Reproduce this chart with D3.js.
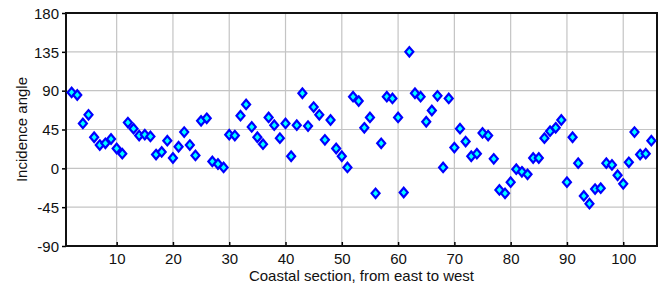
<!DOCTYPE html>
<html><head><meta charset="utf-8">
<script src="https://cdn.jsdelivr.net/npm/d3@7"></script>
<style>body{margin:0;background:#fff}svg{display:block}text{font-family:"Liberation Sans",Arial,sans-serif}</style>
</head><body>
<svg id="c" width="661" height="288"></svg>
<script>
const sections = d3.range(2, 106);
const angles = [88,85,52,62,36,27,29,34,23,17,53,46,38,39,37,16,19,32,12,25,42,27,15,55,58,8,5,1,39,38,61,74,48,36,28,59,50,35,52,14,50,87,49,71,62,33,56,23,14,1,83,78,47,59,-29,29,83,81,59,-28,135,87,83,54,67,84,1,81,24,46,31,14,17,41,38,11,-25,-29,-16,-1,-4,-7,12,12,35,43,47,56,-16,36,6,-32,-41,-24,-23,6,4,-8,-18,7,42,16,17,32];
const xTicks = [10,20,30,40,50,60,70,80,90,100];
const yTicks = [-90,-45,0,45,90,135,180];
const xLabel = "Coastal section, from east to west";
const yLabel = "Incidence angle";

const L=66,R=657,T=13,B=246;
const svg=d3.select("#c");
const x=d3.scaleLinear().domain([1,106]).range([L,R]);
const y=d3.scaleLinear().domain([-90,180]).range([B,T]);

// grid
svg.append("g").selectAll("line").data(xTicks).join("line")
  .attr("x1",d=>x(d)).attr("x2",d=>x(d)).attr("y1",T).attr("y2",B)
  .attr("stroke","#c4c4c4").attr("stroke-width",1.2);
svg.append("g").selectAll("line").data(yTicks.filter(d=>d>-90&&d<180)).join("line")
  .attr("x1",L).attr("x2",R).attr("y1",d=>y(d)).attr("y2",d=>y(d))
  .attr("stroke","#c4c4c4").attr("stroke-width",1.2);

// axes
const xa=svg.append("g").attr("transform",`translate(0,${B})`)
  .call(d3.axisBottom(x).tickValues(xTicks).tickSize(-4).tickPadding(10).tickFormat(d=>String(d)));
const ya=svg.append("g").attr("transform",`translate(${L},0)`)
  .call(d3.axisLeft(y).tickValues(yTicks).tickSize(4).tickPadding(3).tickFormat(d=>String(d)));
[xa,ya].forEach(a=>{a.select(".domain").remove();
  a.selectAll("line").attr("stroke","#000").attr("stroke-width",1.5);
  a.selectAll("text").attr("font-size",15).attr("fill","#111").attr("font-family","Liberation Sans, Arial, sans-serif");});
xa.selectAll("text").attr("dy","0.55em");
ya.selectAll("text").attr("dy","0.35em");

// box
svg.append("rect").attr("x",L).attr("y",T).attr("width",R-L).attr("height",B-T)
  .attr("fill","none").attr("stroke","#111").attr("stroke-width",2);

// markers
const diamond=(cx,cy)=>`M${cx},${cy-4.7}L${cx+4},${cy}L${cx},${cy+4.7}L${cx-4},${cy}Z`;
svg.append("g").selectAll("path").data(sections.map((s,i)=>[s,angles[i]])).join("path")
  .attr("d",d=>diamond(x(d[0]),y(d[1])))
  .attr("fill","#00ffff").attr("stroke","#0000ff").attr("stroke-width",2.2).attr("stroke-linejoin","miter");

// labels
svg.append("text").attr("x",(L+R)/2).attr("y",281).attr("text-anchor","middle")
  .attr("font-size",15).attr("fill","#111").text(xLabel);
svg.append("text").attr("transform",`translate(27,${(T+B)/2}) rotate(-90)`).attr("text-anchor","middle")
  .attr("font-size",15).attr("fill","#111").text(yLabel);
</script>
</body></html>
